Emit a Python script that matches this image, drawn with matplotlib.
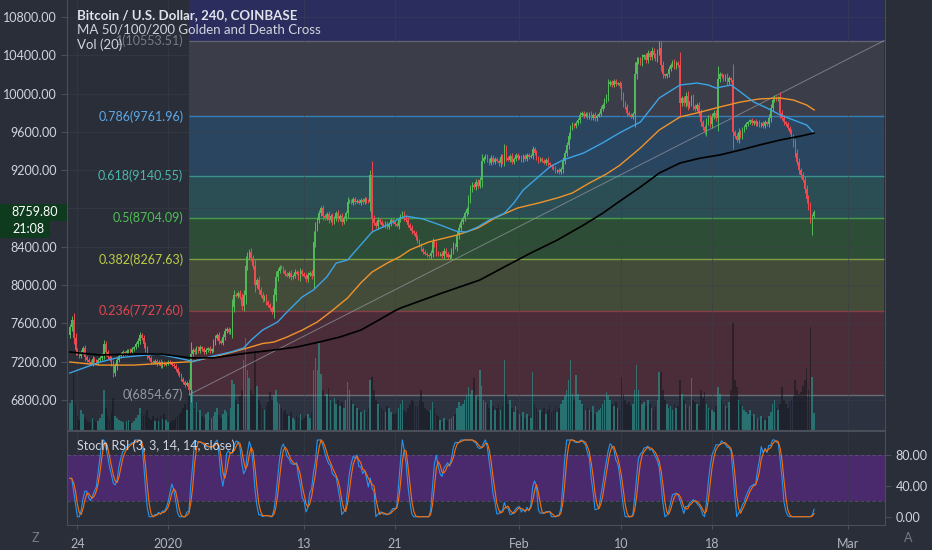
import numpy as np
import pandas as pd
import matplotlib
matplotlib.use("Agg")
import matplotlib.pyplot as plt
import matplotlib.transforms as mtransforms
from matplotlib.patches import Rectangle
from matplotlib.ticker import FormatStrFormatter, FuncFormatter

plt.rcParams['font.family'] = ['Lato', 'DejaVu Sans']

# BTC/USD Coinbase, 4h candles, first candle 2019-12-23 08:00
start = "2019-12-23 08:00"
first_open = 7480
closes = [
    7560, 7640, 7450, 7320,                      # Dec 23
    7290, 7260, 7300, 7340, 7250, 7220,          # Dec 24
    7200, 7180, 7230, 7210, 7190, 7220,
    7240, 7270, 7380, 7300, 7250, 7230,
    7180, 7080, 7150, 7220, 7260, 7280,
    7300, 7290, 7310, 7320, 7300, 7330,
    7350, 7380, 7420, 7480, 7450, 7380,
    7330, 7260, 7240, 7200, 7190, 7210,
    7180, 7200, 7160, 7190, 7170, 7180,          # Dec 31
    7200, 7190, 7170, 7150, 7120, 7080,          # Jan 1
    7060, 7020, 6990, 6960, 6980, 6900,
    7280, 7320, 7300, 7340, 7310, 7350,
    7330, 7300, 7320, 7340, 7310, 7330,
    7400, 7450, 7480, 7420, 7400, 7460,
    7520, 7540, 7510, 7530, 7770, 7900,
    7890, 7920, 7880, 7780, 7900, 8200,
    8300, 8350, 8280, 8200, 8000, 8050,
    7950, 7900, 7850, 7880, 7820, 7790,
    7760, 7720, 7900, 8080, 8150, 8190,          # Jan 10
    8180, 8150, 8120, 8100, 8130, 8080,
    8100, 8140, 8120, 8080, 8150, 8120,
    8100, 8060, 8110, 8130, 8090, 8450,
    8600, 8680, 8750, 8800, 8720, 8700,
    8740, 8680, 8720, 8660, 8700, 8750,
    8690, 8720, 8660, 8700, 8750, 8870,
    8880, 8860, 8900, 8870, 8880, 8860,
    8890, 8870, 8900, 8880, 8870, 9150,
    8700, 8650, 8620, 8680, 8660, 8630,
    8620, 8650, 8610, 8640, 8680, 8660,          # Jan 20
    8640, 8620, 8680, 8720, 8750, 8700,
    8680, 8630, 8600, 8560, 8540, 8500,
    8460, 8420, 8380, 8350, 8330, 8310,
    8300, 8340, 8450, 8420, 8340, 8320,
    8330, 8300, 8360, 8320, 8290, 8310,
    8360, 8420, 8400, 8520, 8600, 8660,
    8700, 8750, 8790, 8900, 9000, 9050,
    9020, 9080, 9040, 9100, 9300, 9330,
    9350, 9310, 9280, 9330, 9290, 9320,
    9300, 9270, 9340, 9290, 9420, 9330,          # Jan 30
    9310, 9350, 9290, 9320, 9360, 9330,
    9340, 9310, 9350, 9320, 9360, 9340,          # Feb 1
    9350, 9420, 9380, 9330, 9300, 9320,
    9300, 9280, 9310, 9270, 9250, 9230,
    9220, 9190, 9200, 9180, 9210, 9300,
    9380, 9460, 9560, 9640, 9680, 9660,
    9690, 9720, 9780, 9800, 9770, 9790,
    9760, 9790, 9750, 9780, 9740, 9770,
    9790, 9840, 9880, 9930, 9970, 10100,
    10120, 10090, 10130, 10100, 10110, 10080,
    9980, 9900, 9860, 9800, 9780, 9760,          # Feb 10
    9790, 10200, 10330, 10360, 10320, 10380,
    10400, 10350, 10420, 10380, 10450, 10400,
    10360, 10430, 10480, 10300, 10200, 10180,
    10200, 10260, 10300, 10330, 10280, 10320,
    10300, 9900, 9950, 9900, 9980, 9870,
    9900, 9960, 9870, 9840, 9880, 9800,
    9700, 9650, 9600, 9700, 9750, 9680,
    9760, 9800, 9740, 10150, 10200, 10180,
    10150, 10180, 10120, 10160, 10140, 9600,
    9560, 9520, 9600, 9560, 9620, 9650,          # Feb 20
    9680, 9700, 9720, 9690, 9710, 9680,
    9700, 9670, 9690, 9660, 9700, 9680,
    9750, 9850, 9930, 9960, 9940, 9960,
    9800, 9750, 9700, 9680, 9640, 9600,
    9550, 9480, 9380, 9290, 9200, 9150,
    9100, 9000, 8900, 8820, 8700, 8720,
    8760,                                        # Feb 27
]
volumes = [
    27, 30, 60, 25,
    14, 10, 20, 16, 12, 9,
    8, 7, 12, 10, 8, 9,
    12, 16, 40, 22, 14, 10,
    18, 32, 14, 12, 10, 9,
    8, 7, 9, 10, 8, 7,
    9, 12, 15, 22, 17, 14,
    16, 20, 12, 10, 14, 9,
    12, 9, 14, 11, 16, 10,
    8, 7, 9, 10, 12, 14,
    16, 18, 22, 26, 20, 40,
    36, 40, 22, 28, 18, 20,
    14, 12, 16, 18, 10, 12,
    14, 18, 22, 15, 12, 16,
    20, 18, 14, 22, 50, 46,
    30, 26, 34, 40, 70, 92,
    60, 52, 40, 36, 78, 44,
    30, 26, 22, 20, 24, 28,
    38, 30, 34, 40, 28, 26,
    22, 18, 20, 16, 14, 18,
    12, 10, 14, 12, 16, 10,
    12, 14, 16, 12, 18, 60,
    72, 60, 87, 56, 40, 34,
    36, 42, 30, 28, 32, 26,
    30, 24, 28, 22, 30, 48,
    40, 30, 26, 24, 22, 20,
    18, 16, 20, 18, 22, 50,
    53, 40, 30, 26, 24, 22,
    20, 18, 24, 22, 18, 16,
    16, 18, 22, 26, 30, 20,
    18, 22, 26, 30, 28, 24,
    24, 30, 40, 28, 22, 20,
    18, 20, 28, 22, 16, 14,
    10, 8, 12, 10, 9, 11,
    12, 14, 16, 22, 28, 24,
    26, 30, 34, 43, 36, 40,
    52, 34, 30, 60, 44, 30,
    28, 26, 22, 30, 24, 20,
    22, 26, 20, 24, 70, 36,
    26, 30, 22, 18, 24, 20,
    16, 14, 18, 12, 16, 14,
    12, 58, 26, 22, 18, 20,
    18, 22, 16, 20, 24, 18,
    20, 24, 18, 22, 26, 30,
    34, 40, 50, 70, 36, 30,
    55, 36, 30, 26, 24, 20,
    22, 20, 18, 24, 16, 18,
    20, 22, 26, 30, 38, 34,
    30, 26, 24, 28, 22, 20,
    53, 36, 30, 26, 28, 24,
    26, 40, 65, 40, 30, 26,
    28, 24, 30, 26, 22, 20,
    24, 30, 58, 58, 40, 30,
    26, 22, 24, 20, 26, 22,
    24, 50, 36, 30, 26, 22,
    24, 52, 30, 28, 26, 24,
    40, 32, 38, 26, 22, 20,
    20, 18, 24, 43, 36, 30,
    26, 24, 22, 28, 40, 107,
    50, 43, 30, 26, 24, 20,
    18, 16, 20, 14, 16, 12,
    12, 10, 14, 12, 10, 12,
    14, 18, 26, 30, 22, 20,
    26, 43, 30, 26, 22, 28,
    30, 34, 50, 40, 36, 38,
    44, 50, 62, 40, 103, 53,
    17,
]
wick_high = {"2020-01-18 20": 9200, "2020-02-13 08": 10553.51}
wick_low = {"2020-01-02 20": 6854.67, "2020-02-26 20": 8520}

# moving averages
ma50_t = ["2019-12-23 08", "2019-12-26 00", "2019-12-27 12", "2019-12-30 04", "2019-12-31 04",
          "2020-01-02 16", "2020-01-03 04", "2020-01-04 16", "2020-01-06 12", "2020-01-07 16",
          "2020-01-08 08", "2020-01-09 08", "2020-01-10 16", "2020-01-11 12", "2020-01-12 20",
          "2020-01-13 20", "2020-01-15 00", "2020-01-15 20", "2020-01-16 20", "2020-01-18 00",
          "2020-01-19 00", "2020-01-20 08", "2020-01-21 12", "2020-01-22 00", "2020-01-23 12",
          "2020-01-25 00", "2020-01-26 12", "2020-01-27 08", "2020-01-28 08", "2020-01-29 08",
          "2020-01-30 16", "2020-01-31 12", "2020-02-01 08", "2020-02-02 16", "2020-02-03 16",
          "2020-02-04 20", "2020-02-06 16", "2020-02-08 08", "2020-02-09 20", "2020-02-11 16",
          "2020-02-13 08", "2020-02-15 04", "2020-02-16 16", "2020-02-17 16", "2020-02-18 08",
          "2020-02-19 16", "2020-02-20 12", "2020-02-21 16", "2020-02-22 20", "2020-02-24 00",
          "2020-02-25 04", "2020-02-26 08", "2020-02-27 00"]
ma50_v = [7082, 7197, 7240, 7270, 7280, 7218, 7200, 7250, 7300, 7343,
          7427, 7530, 7615, 7720, 7876, 7950, 8085, 8230, 8262, 8420,
          8555, 8628, 8700, 8720, 8690, 8628, 8560, 8555, 8607, 8680,
          8750, 8857, 8993, 9130, 9233, 9306, 9380, 9485, 9590, 9703,
          9954, 10090, 10110, 10090, 10058, 10090, 10017, 9912, 9850, 9777,
          9725, 9672, 9588]
ma100_t = ["2019-12-23 08", "2019-12-26 00", "2019-12-29 00", "2020-01-01 00", "2020-01-03 00",
           "2020-01-05 00", "2020-01-06 16", "2020-01-08 00", "2020-01-09 08", "2020-01-10 08",
           "2020-01-11 12", "2020-01-12 20", "2020-01-14 04", "2020-01-15 08", "2020-01-16 20",
           "2020-01-18 00", "2020-01-19 00", "2020-01-20 08", "2020-01-21 12", "2020-01-22 08",
           "2020-01-24 00", "2020-01-26 12", "2020-01-28 08", "2020-01-30 00", "2020-01-31 20",
           "2020-02-02 16", "2020-02-04 08", "2020-02-05 16", "2020-02-07 04", "2020-02-08 16",
           "2020-02-09 20", "2020-02-11 16", "2020-02-13 08", "2020-02-15 04", "2020-02-17 00",
           "2020-02-18 16", "2020-02-20 12", "2020-02-22 04", "2020-02-24 00", "2020-02-25 04",
           "2020-02-26 08", "2020-02-27 00"]
ma100_v = [7197, 7165, 7165, 7186, 7200, 7250, 7300, 7343, 7390, 7405,
           7458, 7530, 7615, 7720, 7865, 8022, 8137, 8230, 8300, 8367,
           8450, 8523, 8596, 8711, 8805, 8857, 8910, 8962, 9066, 9160,
           9250, 9432, 9620, 9756, 9808, 9860, 9912, 9944, 9954, 9933,
           9881, 9829]
ma200_t = ["2019-12-23 08", "2019-12-26 00", "2019-12-29 00", "2019-12-31 08", "2020-01-03 00",
           "2020-01-05 00", "2020-01-08 00", "2020-01-10 08", "2020-01-12 08", "2020-01-14 08",
           "2020-01-16 04", "2020-01-18 00", "2020-01-19 16", "2020-01-20 20", "2020-01-21 12",
           "2020-01-25 00", "2020-01-28 12", "2020-01-30 16", "2020-02-02 00", "2020-02-04 08",
           "2020-02-06 16", "2020-02-08 08", "2020-02-09 20", "2020-02-11 16", "2020-02-13 08",
           "2020-02-15 04", "2020-02-17 00", "2020-02-18 16", "2020-02-20 12", "2020-02-22 04",
           "2020-02-24 00", "2020-02-25 20", "2020-02-27 00"]
ma200_v = [7301, 7270, 7280, 7280, 7240, 7240, 7290, 7322, 7353, 7405,
           7458, 7530, 7640, 7720, 7760, 7910, 8053, 8190, 8335, 8470,
           8628, 8750, 8875, 9024, 9170, 9275, 9327, 9359, 9411, 9463,
           9515, 9557, 9588]

# fibonacci retracement drawn from the Jan 3 low
fib_from = ("2020-01-02 20", 6854.67)
fib_to = ("2020-03-04 04", 10553.51)
fib_levels = [0, 0.236, 0.382, 0.5, 0.618, 0.786, 1, 1.618]
fib_fill = ['#4a2d38', '#424c39', '#2e4d36', '#2b4e54', '#2a4560', '#3b3e48', '#2b2d5e']
fib_line = ['#787b86', '#9a4249', '#8fb24a', '#4caf50', '#3ca59b', '#3d8ccc', '#6a6d78', '#5c4fb0']
fib_text = ['#9598a1', '#e0474f', '#bccd45', '#4cc153', '#4db6ac', '#5ca8e8', '#787b86', '#7e57c2']

tick_dates = ["2019-12-24", "2020-01-01", "2020-01-13", "2020-01-21",
              "2020-02-01", "2020-02-10", "2020-02-18", "2020-03-01"]
tick_labels = ["24", "2020", "13", "21", "Feb", "10", "18", "Mar"]
view = ("2019-12-23 02", "2020-03-04 06")
last_price = 8759.80
countdown = "21:08"

BG = '#2a2e39'
LINE = '#4a4e59'
TXT = '#d1d4dc'
UP, DOWN = '#53b95a', '#ef4a52'

t0 = pd.Timestamp(start)


def to_idx(s):
    return (pd.to_datetime(s) - t0) / pd.Timedelta(hours=4)


def hidx(s):
    return to_idx(pd.to_datetime(s, format="%Y-%m-%d %H"))


n = len(closes)
x = np.arange(n)
c = np.array(closes, float)
o = np.r_[first_open, c[:-1]]
body = np.abs(c - o)
hi = np.maximum(o, c) + 12 + 0.3 * body
lo = np.minimum(o, c) - 12 - 0.3 * body
for k, v in wick_high.items():
    hi[int(round(hidx(k)))] = v
for k, v in wick_low.items():
    lo[int(round(hidx(k)))] = v
up = c >= o

# Stoch RSI (3, 3, 14, 14, close)
s = pd.Series(c)
d = s.diff().fillna(0)
gain = d.clip(lower=0).ewm(alpha=1 / 14, adjust=True).mean()
loss = (-d.clip(upper=0)).ewm(alpha=1 / 14, adjust=True).mean()
rsi = (100 - 100 / (1 + gain / loss.replace(0, np.nan))).fillna(50)
rmin = rsi.rolling(14, min_periods=1).min()
rmax = rsi.rolling(14, min_periods=1).max()
stoch = ((rsi - rmin) / (rmax - rmin).replace(0, np.nan) * 100).fillna(50)
k_line = stoch.rolling(3, min_periods=1).mean()
d_line = k_line.rolling(3, min_periods=1).mean()

W, H = 932, 550
fig = plt.figure(figsize=(W / 100, H / 100), dpi=100, facecolor=BG)


def rect(l, t, r, b):
    return [l / W, 1 - b / H, (r - l) / W, (b - t) / H]


main_rect = rect(67, 0, 885, 430)
ax_bg = fig.add_axes(main_rect)
ax_vol = fig.add_axes(main_rect, sharex=ax_bg)
ax = fig.add_axes(main_rect, sharex=ax_bg, sharey=ax_bg)
ax_s = fig.add_axes(rect(67, 431, 885, 525), sharex=ax_bg)

ax_bg.set_xlim(hidx(view[0]), hidx(view[1]))
ax_bg.set_ylim(6486.7, 10977.5)
ax_bg.set_facecolor(BG)
for sp in ax_bg.spines.values():
    sp.set_visible(False)
ax_bg.set_xticks([to_idx(t) for t in tick_dates])
ax_bg.set_yticks(np.arange(6800, 10801, 400))
ax_bg.tick_params(left=False, bottom=False, labelleft=False, labelbottom=False)
ax_bg.set_axisbelow(False)
ax_bg.grid(True, color='#3a3e49', lw=0.6, alpha=0.6)

# fib bands
fx0, fx1 = hidx(fib_from[0]), hidx(fib_to[0])
p0, p1 = fib_from[1], fib_to[1]
fib_prices = [p0 + lv * (p1 - p0) for lv in fib_levels]
ymin = ax_bg.get_ylim()[0]
ax_bg.fill_between([fx0, fx1], ymin, fib_prices[0], color='#2d3240', lw=0, zorder=1)
for i, col in enumerate(fib_fill):
    ax_bg.fill_between([fx0, fx1], fib_prices[i], fib_prices[i + 1], color=col, lw=0, zorder=1)
for p, col in zip(fib_prices, fib_line):
    ax_bg.hlines(p, fx0, fx1, color=col, lw=1.0, alpha=0.8, zorder=2)

# volume
ax_vol.set_axis_off()
vcol = ['#26a69a' if u else '#15161c' for u in up]
ax_vol.bar(x, volumes, width=0.85, color=vcol, alpha=0.55, lw=0)
ax_vol.set_ylim(0, max(volumes) * 4.0)

# price
ax.patch.set_visible(False)
ax.plot([fx0, fx1], [p0, p1], color='#9598a1', lw=0.7, alpha=0.7, zorder=2)
ccol = np.where(up, UP, DOWN)
ax.vlines(x, lo, hi, colors=ccol, lw=0.7, zorder=3)
ax.bar(x, np.maximum(body, 6), bottom=np.minimum(o, c), width=0.75, color=ccol, lw=0, zorder=4)

for tt, vv, col, lw in [(ma100_t, ma100_v, '#f0932b', 1.0), (ma50_t, ma50_v, '#3ba3e6', 1.0),
                        (ma200_t, ma200_v, '#000000', 1.2)]:
    ax.plot([hidx(t) for t in tt], vv, color=col, lw=lw, zorder=5)

for lv, p, col in zip(fib_levels[:-1], fib_prices[:-1], fib_text[:-1]):
    ax.annotate(f"{lv:g}({p:.2f})", xy=(fx0, p), xytext=(-4, 0), textcoords='offset points',
                ha='right', va='center', color=col, fontsize=9, zorder=6)

# the last-price tag covers the nearest price label
ax.yaxis.set_major_formatter(FuncFormatter(
    lambda v, _: '' if abs(v - last_price) < 150 else f"{v:.2f}"))
ax.tick_params(axis='y', colors=LINE, labelcolor=TXT, labelsize=9, length=4, width=0.8)
ax.tick_params(axis='x', bottom=False, labelbottom=False)
for side, sp in ax.spines.items():
    sp.set_color(LINE)
    sp.set_visible(side != 'top')

# last price tag + candle countdown, sized in pixels
ypix = ax.transData.transform((0, last_price))[1]
pix = mtransforms.IdentityTransform()
fig.add_artist(Rectangle((0, ypix - 8.5), 67, 17, transform=pix, color='#0e3a1d', lw=0))
fig.add_artist(Rectangle((0, ypix - 25.5), 50, 17, transform=pix, color='#0e3a1d', lw=0))
fig.text(58, ypix, f"{last_price:.2f}", transform=pix, color='white', fontsize=9,
         ha='right', va='center')
fig.text(45, ypix - 17, countdown, transform=pix, color='white', fontsize=9,
         ha='right', va='center')

# stoch rsi panel
ax_s.set_facecolor(BG)
ax_s.set_ylim(-10.8, 111.7)
ax_s.axhspan(20, 80, color='#4a2a6c', lw=0, zorder=1)
for lvl in (20, 80):
    ax_s.axhline(lvl, color='#787b86', lw=0.6, ls=(0, (4, 3)), alpha=0.5, zorder=2)
ax_s.plot(x, k_line, color='#2196f3', lw=0.8, zorder=3)
ax_s.plot(x, d_line, color='#ff6d00', lw=0.8, zorder=3)
ax_s.set_xticks([to_idx(t) for t in tick_dates])
ax_s.set_xticklabels(tick_labels)
ax_s.grid(True, axis='x', color='#3a3e49', lw=0.6, alpha=0.6)
ax_s.yaxis.tick_right()
ax_s.set_yticks([0, 40, 80])
ax_s.yaxis.set_major_formatter(FormatStrFormatter('%.2f'))
ax_s.tick_params(axis='y', colors=LINE, labelcolor=TXT, labelsize=9, length=4, width=0.8)
ax_s.tick_params(axis='x', colors=LINE, labelcolor='#b2b5be', labelsize=9, length=3, pad=6)
for sp in ax_s.spines.values():
    sp.set_color(LINE)
ax_s.text(10 / 818, 1 - 15 / 94, "Stoch RSI (3, 3, 14, 14, close)", transform=ax_s.transAxes,
          color=TXT, fontsize=9, va='center')

# legend / header texts
fig.text(77 / W, 1 - 15 / H, "Bitcoin / U.S. Dollar, 240, COINBASE", color='#e0e3eb',
         fontsize=9.5, fontweight='bold', va='center')
fig.text(77 / W, 1 - 30 / H, "MA 50/100/200 Golden and Death Cross", color=TXT,
         fontsize=9.5, va='center')
fig.text(77 / W, 1 - 45 / H, "Vol (20)", color=TXT, fontsize=9.5, va='center')
fig.text(35 / W, 1 - 538 / H, "Z", color='#787b86', fontsize=9, ha='center', va='center')
fig.text(908 / W, 1 - 538 / H, "A", color='#787b86', fontsize=9, ha='center', va='center')

fig.savefig("out.png", dpi=100, facecolor=BG)
